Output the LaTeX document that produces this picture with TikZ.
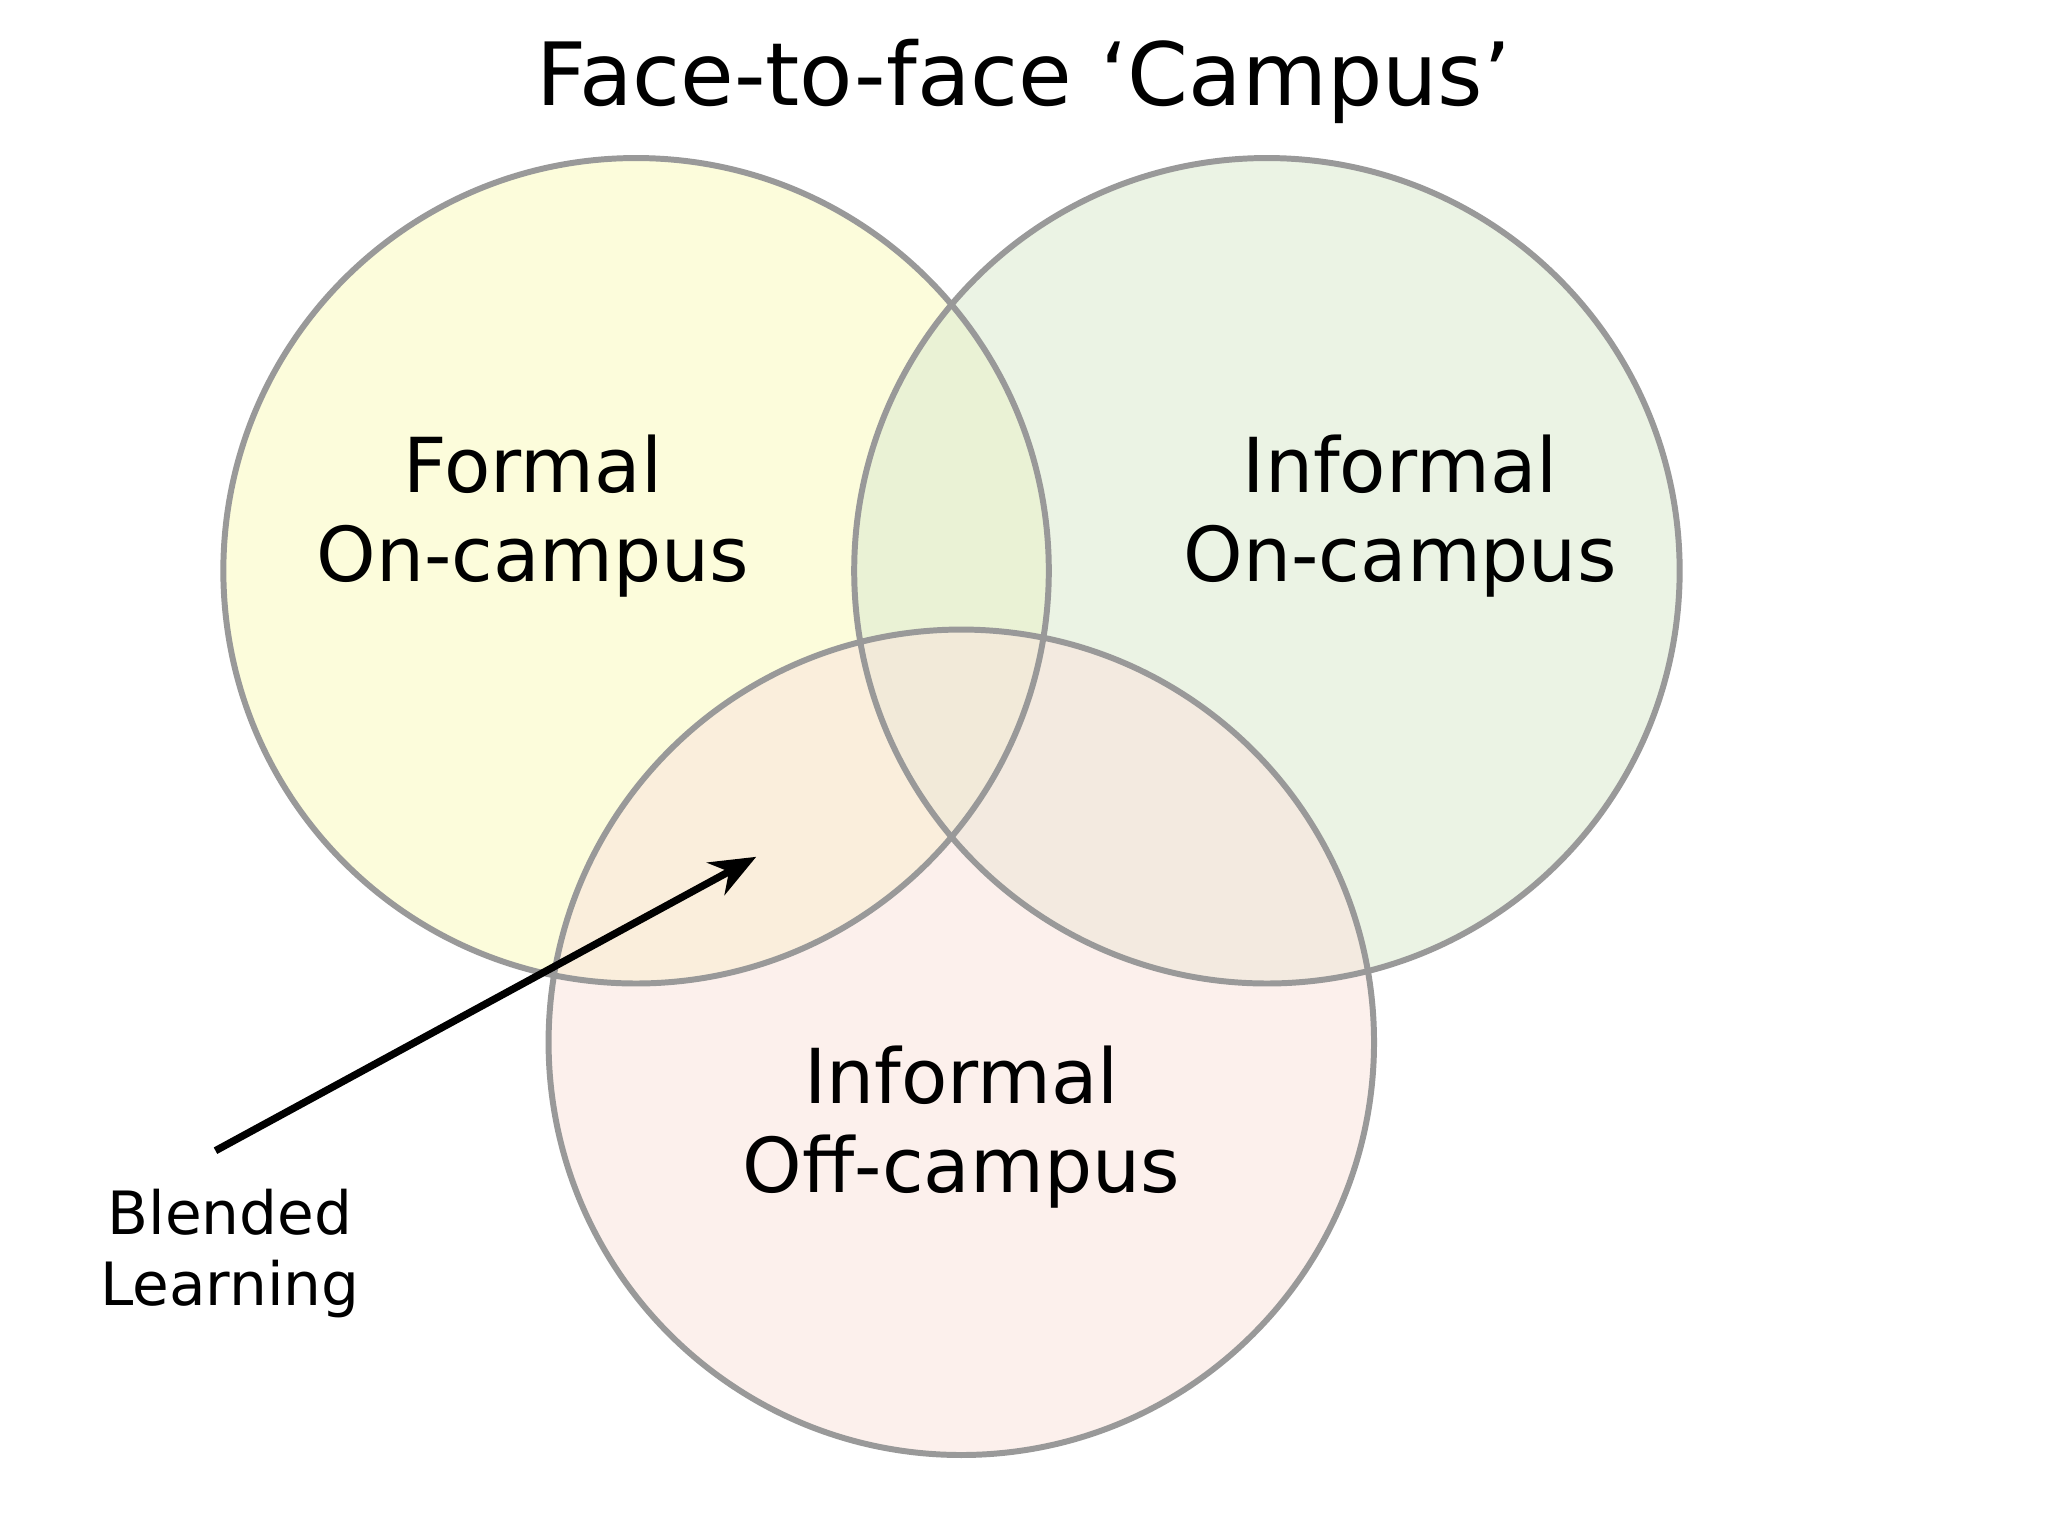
\documentclass[tikz,border=0pt]{standalone}
\usepackage{fontspec}
\setmainfont{DejaVu Sans}
\usetikzlibrary{arrows.meta}
\definecolor{cy}{RGB}{252,252,205}
\definecolor{cg}{RGB}{222,236,210}
\definecolor{cp}{RGB}{250,228,222}
\tikzset{circ/.style={draw=black!40,line width=1.3pt,fill opacity=0.55},
lbl/.style={align=center,font=\fontsize{16.5}{19.5}\selectfont}}
\begin{document}
\begin{tikzpicture}[x=0.01cm,y=-0.01cm]
\useasboundingbox (0,0) rectangle (1568,1176);
\fill[white] (0,0) rectangle (1568,1176);
\fill[cy,fill opacity=0.7] (487,437) circle (316);
\fill[cg,fill opacity=0.6] (970,437) circle (316);
\fill[cp,fill opacity=0.55] (736,798) circle (316);
\draw[circ] (487,437) circle (316);
\draw[circ] (970,437) circle (316);
\draw[circ] (736,798) circle (316);
\node[font=\fontsize{19}{23}\selectfont] (t) at (784,62) {Face-to-face ‘Campus’};
\node[lbl] (a) at (408,395) {Formal\\On-campus};
\node[lbl] (b) at (1072,395) {Informal\\On-campus};
\node[lbl] (c) at (736,863) {Informal\\Off-campus};
\node[align=center,font=\fontsize{13}{15.5}\selectfont] (d) at (176,960) {Blended\\Learning};
\coordinate (s) at (165,881);
\coordinate (e) at (579,656);
\draw[line width=1.6pt,-{Stealth[length=10pt,width=8pt]}] (s) -- (e);
\end{tikzpicture}
\end{document}
